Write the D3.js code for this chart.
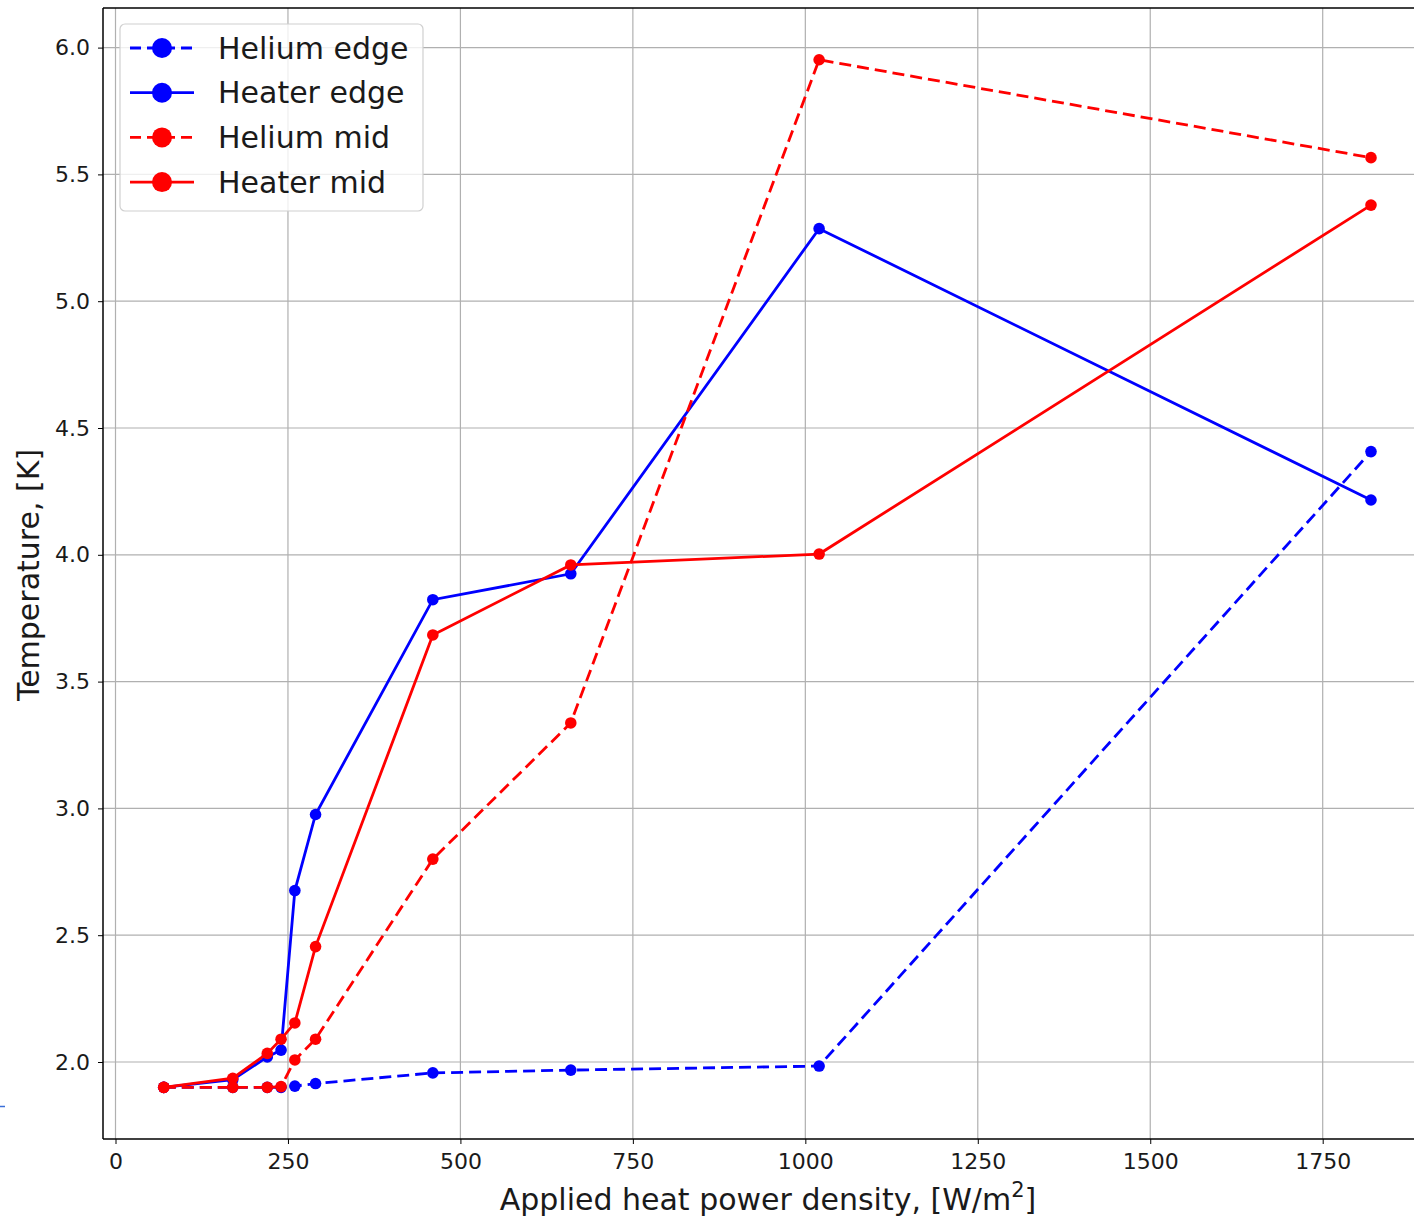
<!DOCTYPE html>
<html>
<head>
<meta charset="utf-8">
<script src="https://cdn.jsdelivr.net/npm/d3@7"></script>
<style>
  html, body { margin: 0; padding: 0; background: #fff; }
  svg { display: block; }
  text { font-family: "DejaVu Sans", sans-serif; fill: #1a1a1a; }
</style>
</head>
<body>
<svg id="chart" width="1414" height="1217"></svg>
<script>
// Applied heat power density, W/m^2
const power = [70, 170, 220, 240, 260, 290, 460, 660, 1020, 1820];

// Temperatures, K
const heliumEdge = [1.90, 1.90, 1.90, 1.90, 1.905, 1.915, 1.957, 1.968, 1.984, 4.407];
const heaterEdge = [1.90, 1.93, 2.02, 2.047, 2.676, 2.976, 3.823, 3.925, 5.286, 4.216];
const heliumMid  = [1.90, 1.90, 1.90, 1.903, 2.008, 2.09, 2.80, 3.337, 5.952, 5.566];
const heaterMid  = [1.90, 1.936, 2.034, 2.09, 2.154, 2.455, 3.684, 3.96, 4.003, 5.379];

const xTicks = [0, 250, 500, 750, 1000, 1250, 1500, 1750];
const yTicks = [2.0, 2.5, 3.0, 3.5, 4.0, 4.5, 5.0, 5.5, 6.0];

const series = [
  { name: "Helium edge", values: heliumEdge, color: "#0000ff", dashed: true },
  { name: "Heater edge", values: heaterEdge, color: "#0000ff", dashed: false },
  { name: "Helium mid",  values: heliumMid,  color: "#ff0000", dashed: true },
  { name: "Heater mid",  values: heaterMid,  color: "#ff0000", dashed: false }
];

const svg = d3.select("#chart");
const plot = { left: 103, right: 1420, top: 8, bottom: 1139 };

const x = d3.scaleLinear().domain([0, 1750]).range([115.5, 1322.7]);
const y = d3.scaleLinear().domain([2.0, 6.0]).range([1062, 47.6]);

// grid
const grid = svg.append("g");
grid.selectAll("line.vx").data(xTicks).enter().append("line")
  .attr("x1", d => x(d)).attr("x2", d => x(d))
  .attr("y1", plot.top).attr("y2", plot.bottom)
  .attr("stroke", "#b0b0b0").attr("stroke-width", 1.2);
grid.selectAll("line.hy").data(yTicks).enter().append("line")
  .attr("x1", plot.left).attr("x2", plot.right)
  .attr("y1", d => y(d)).attr("y2", d => y(d))
  .attr("stroke", "#b0b0b0").attr("stroke-width", 1.2);

// axes
const xAxis = d3.axisBottom(x).tickValues(xTicks).tickFormat(d3.format("d"))
  .tickSize(5).tickPadding(9);
const yAxis = d3.axisLeft(y).tickValues(yTicks).tickFormat(d3.format(".1f"))
  .tickSize(5).tickPadding(8);

const gx = svg.append("g").attr("transform", `translate(0,${plot.bottom})`).call(xAxis);
const gy = svg.append("g").attr("transform", `translate(${plot.left},0)`).call(yAxis);
[gx, gy].forEach(g => {
  g.select(".domain").remove();
  g.selectAll(".tick line").attr("stroke", "#000").attr("stroke-width", 1);
  g.selectAll(".tick text").style("font-size", "22px").attr("fill", "#1a1a1a");
});

// spines
svg.append("line").attr("x1", plot.left).attr("x2", plot.left)
  .attr("y1", plot.top).attr("y2", plot.bottom).attr("stroke", "#000").attr("stroke-width", 1.5);
svg.append("line").attr("x1", plot.left).attr("x2", plot.right)
  .attr("y1", plot.top).attr("y2", plot.top).attr("stroke", "#000").attr("stroke-width", 1.5);
svg.append("line").attr("x1", plot.left).attr("x2", plot.right)
  .attr("y1", plot.bottom).attr("y2", plot.bottom).attr("stroke", "#000").attr("stroke-width", 1.5);

// series
const line = d3.line().x(d => x(d[0])).y(d => y(d[1]));
series.forEach(s => {
  const pts = power.map((p, i) => [p, s.values[i]]);
  const g = svg.append("g");
  g.append("path").datum(pts).attr("d", line)
    .attr("fill", "none").attr("stroke", s.color).attr("stroke-width", 2.8)
    .attr("stroke-dasharray", s.dashed ? "12,6" : null);
  g.selectAll("circle").data(pts).enter().append("circle")
    .attr("cx", d => x(d[0])).attr("cy", d => y(d[1])).attr("r", 5.8)
    .attr("fill", s.color);
});

// legend
const lg = svg.append("g");
lg.append("rect").attr("x", 120).attr("y", 24).attr("width", 303).attr("height", 187)
  .attr("rx", 5).attr("fill", "#fff").attr("fill-opacity", 0.8)
  .attr("stroke", "#d0d0d0").attr("stroke-width", 1.2);
series.forEach((s, i) => {
  const cy = 48 + i * 44.7;
  lg.append("line").attr("x1", 130).attr("x2", 194).attr("y1", cy).attr("y2", cy)
    .attr("stroke", s.color).attr("stroke-width", 2.8)
    .attr("stroke-dasharray", s.dashed ? "11,6" : null);
  lg.append("circle").attr("cx", 162).attr("cy", cy).attr("r", 10).attr("fill", s.color);
  lg.append("text").attr("x", 218).attr("y", cy).attr("dy", "0.35em")
    .style("font-size", "30px").text(s.name);
});

// axis titles
const xt = svg.append("text").attr("x", 768).attr("y", 1210).attr("text-anchor", "middle")
  .style("font-size", "30px");
xt.append("tspan").text("Applied heat power density, [W/m");
xt.append("tspan").attr("dy", -13).style("font-size", "21px").text("2");
xt.append("tspan").attr("dy", 13).text("]");

svg.append("text").attr("transform", "translate(39,575) rotate(-90)")
  .attr("text-anchor", "middle").style("font-size", "30px").text("Temperature, [K]");

// small blue stroke at the left edge
svg.append("line").attr("x1", 0).attr("x2", 5).attr("y1", 1106.5).attr("y2", 1106.5)
  .attr("stroke", "#3a6fd8").attr("stroke-width", 1.5);
</script>
</body>
</html>
